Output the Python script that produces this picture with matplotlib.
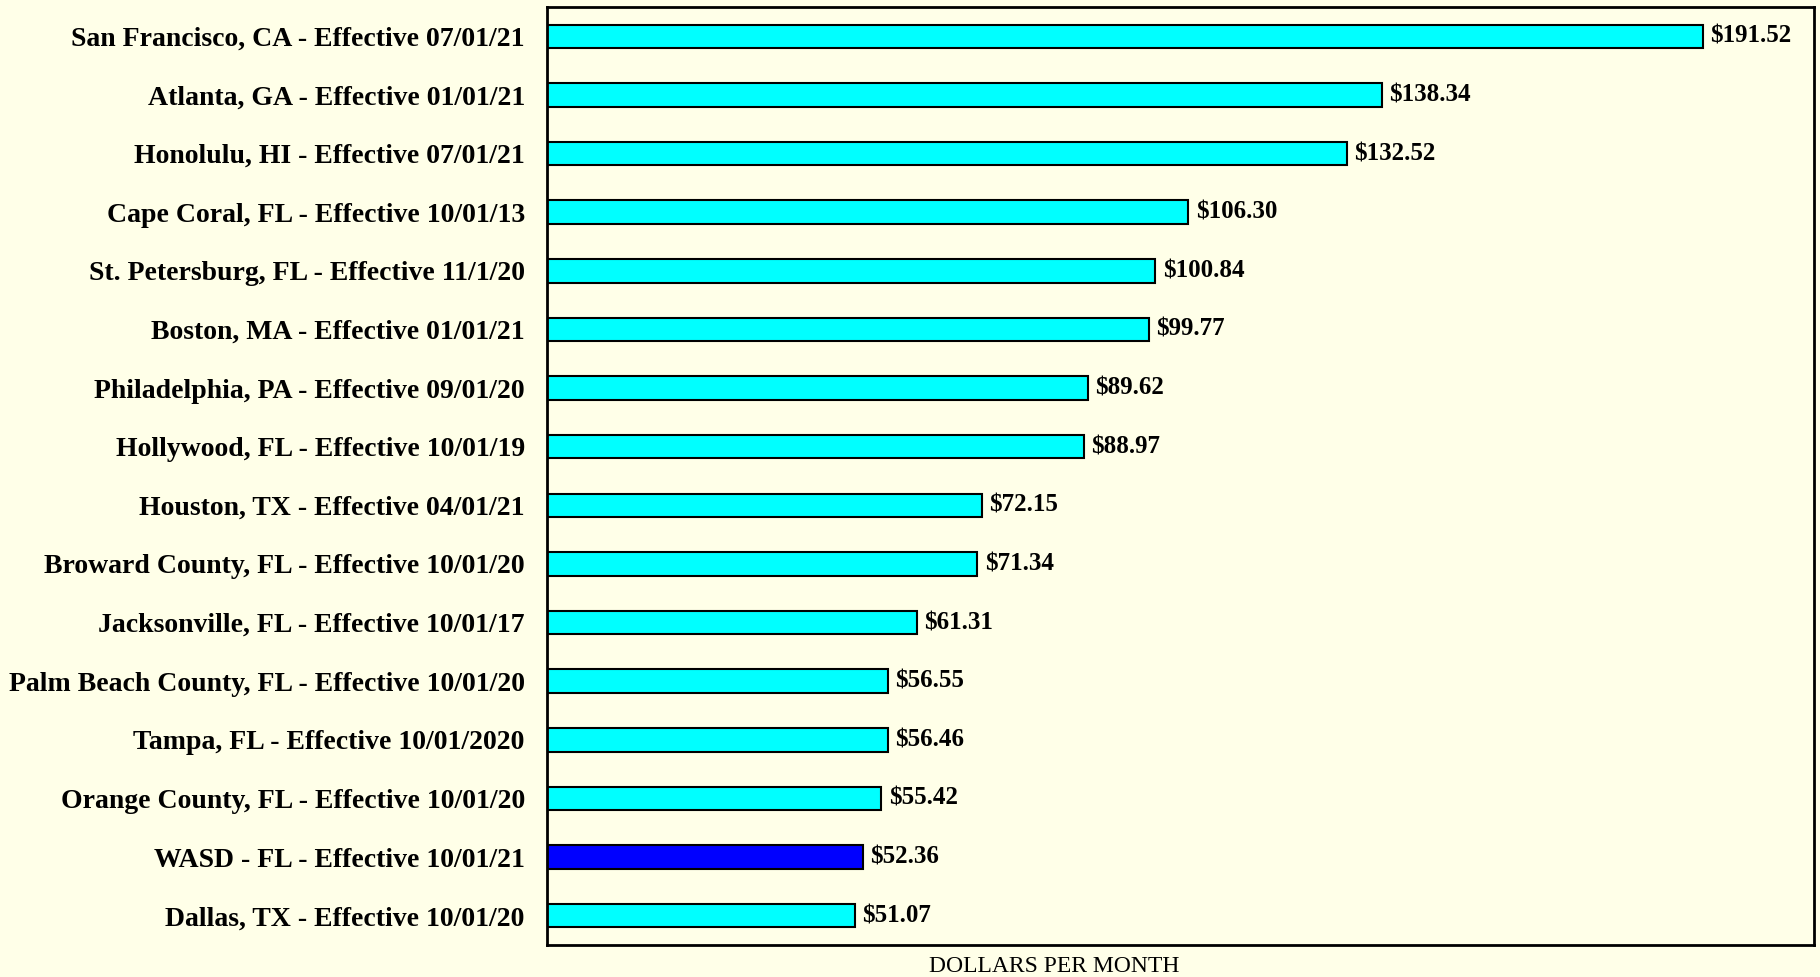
import matplotlib
matplotlib.use("Agg")
import matplotlib.pyplot as plt

categories = [
    "San Francisco, CA - Effective 07/01/21",
    "Atlanta, GA - Effective 01/01/21",
    "Honolulu, HI - Effective 07/01/21",
    "Cape Coral, FL - Effective 10/01/13",
    "St. Petersburg, FL - Effective 11/1/20",
    "Boston, MA - Effective 01/01/21",
    "Philadelphia, PA - Effective 09/01/20",
    "Hollywood, FL - Effective 10/01/19",
    "Houston, TX - Effective 04/01/21",
    "Broward County, FL - Effective 10/01/20",
    "Jacksonville, FL - Effective 10/01/17",
    "Palm Beach County, FL - Effective 10/01/20",
    "Tampa, FL - Effective 10/01/2020",
    "Orange County, FL - Effective 10/01/20",
    "WASD - FL - Effective 10/01/21",
    "Dallas, TX - Effective 10/01/20",
]
values = [191.52, 138.34, 132.52, 106.30, 100.84, 99.77, 89.62, 88.97,
          72.15, 71.34, 61.31, 56.55, 56.46, 55.42, 52.36, 51.07]
highlight = "WASD - FL - Effective 10/01/21"
xlabel = "DOLLARS PER MONTH"

bg = "#FFFFE8"
fig = plt.figure(figsize=(18.2, 9.77), dpi=100, facecolor=bg)
ax = fig.add_axes([547/1820, 1 - 945/977, (1814-547)/1820, (945-7)/977])
ax.set_facecolor(bg)

colors = ["#0000FF" if c == highlight else "#00FFFF" for c in categories]
y = list(range(len(categories)))
ax.barh(y, values, height=0.4, color=colors, edgecolor="black", linewidth=1.5)

ax.set_xlim(0, 210)
ax.set_ylim(len(categories) - 0.5, -0.5)
ax.set_yticks(y)
ax.set_yticklabels(categories, fontfamily="Liberation Serif", fontweight="bold", fontsize=20)
ax.tick_params(axis="y", length=0, pad=16)
ax.set_xticks([])

for yi, v in zip(y, values):
    ax.text(v + 1.2, yi, f"${v:.2f}", va="center", ha="left",
            fontfamily="Liberation Serif", fontweight="bold", fontsize=18)

for s in ax.spines.values():
    s.set_linewidth(2)
    s.set_color("black")

fig.text(1054/1820, 1 - 967/977, xlabel, ha="center", va="center",
         fontfamily="Liberation Serif", fontsize=17)

fig.savefig("out.png", dpi=100, facecolor=bg)
